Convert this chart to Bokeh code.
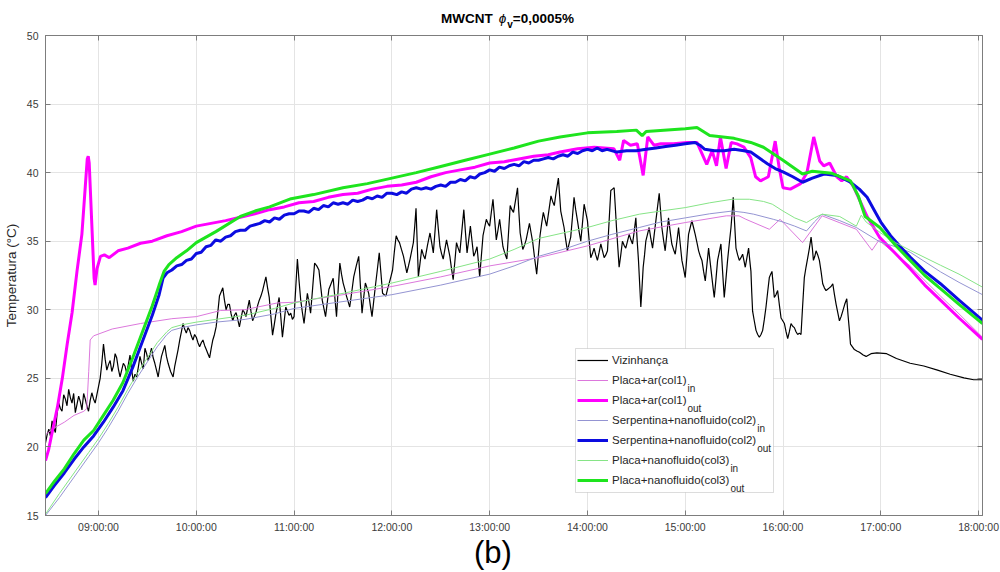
from bokeh.plotting import figure
from bokeh.models import (Range1d, FixedTicker, LinearAxis, Label, BoxAnnotation,
                          Legend, LegendItem, Div)
from bokeh.layouts import column
from bokeh.embed import file_html
from bokeh.resources import INLINE

FONT = "Liberation Sans"

# ---- time axis (decimal hours) and labels --------------------------------
tick_hours = [9, 10, 11, 12, 13, 14, 15, 16, 17, 18]
tick_labels = ["09:00:00", "10:00:00", "11:00:00", "12:00:00", "13:00:00",
               "14:00:00", "15:00:00", "16:00:00", "17:00:00", "18:00:00"]
temp_ticks = [15, 20, 25, 30, 35, 40, 45, 50]

# ---- Vizinhança (ambient) ------------------------------------------------
amb_hours = [
    8.458, 8.475, 8.492, 8.508, 8.525, 8.542, 8.559, 8.576, 8.593, 8.61,
    8.627, 8.644, 8.661, 8.678, 8.695, 8.712, 8.729, 8.746, 8.763, 8.78,
    8.797, 8.814, 8.831, 8.848, 8.864, 8.881, 8.898, 8.915, 8.932, 8.949,
    8.966, 8.983, 9.0, 9.017, 9.034, 9.051, 9.068, 9.085, 9.102, 9.119,
    9.136, 9.153, 9.17, 9.186, 9.203, 9.22, 9.237, 9.254, 9.271, 9.288,
    9.305, 9.322, 9.339, 9.356, 9.373, 9.39, 9.407, 9.424, 9.441, 9.458,
    9.475, 9.492, 9.508, 9.525, 9.542, 9.559, 9.576, 9.593, 9.61, 9.627,
    9.644, 9.661, 9.678, 9.695, 9.712, 9.737, 9.763, 9.78, 9.797, 9.814,
    9.831, 9.848, 9.864, 9.881, 9.898, 9.915, 9.932, 9.949, 9.966, 9.983,
    10.0, 10.017, 10.034, 10.051, 10.068, 10.085, 10.102, 10.119, 10.136, 10.153,
    10.169, 10.186, 10.203, 10.22, 10.237, 10.254, 10.271, 10.288, 10.305, 10.322,
    10.339, 10.356, 10.373, 10.39, 10.407, 10.424, 10.441, 10.458, 10.475, 10.492,
    10.508, 10.525, 10.542, 10.559, 10.576, 10.593, 10.61, 10.627, 10.644, 10.661,
    10.678, 10.695, 10.712, 10.729, 10.746, 10.763, 10.78, 10.797, 10.814, 10.831,
    10.847, 10.864, 10.881, 10.898, 10.915, 10.932, 10.949, 10.966, 10.983, 11.0,
    11.017, 11.034, 11.051, 11.068, 11.085, 11.102, 11.119, 11.136, 11.153, 11.169,
    11.19, 11.21, 11.232, 11.254, 11.271, 11.288, 11.305, 11.322, 11.339, 11.356,
    11.378, 11.4, 11.417, 11.434, 11.451, 11.468, 11.485, 11.502, 11.519, 11.536,
    11.553, 11.569, 11.59, 11.61, 11.636, 11.661, 11.678, 11.695, 11.712, 11.729,
    11.746, 11.763, 11.78, 11.797, 11.814, 11.831, 11.851, 11.871, 11.888, 11.905,
    11.922, 11.939, 11.956, 11.973, 11.99, 12.007, 12.025, 12.044, 12.061, 12.078,
    12.098, 12.119, 12.136, 12.153, 12.17, 12.186, 12.203, 12.22, 12.234, 12.247,
    12.259, 12.271, 12.288, 12.305, 12.322, 12.339, 12.364, 12.39, 12.407, 12.424,
    12.441, 12.458, 12.475, 12.492, 12.508, 12.525, 12.542, 12.559, 12.576, 12.593,
    12.61, 12.627, 12.644, 12.661, 12.678, 12.695, 12.715, 12.736, 12.752, 12.769,
    12.786, 12.803, 12.82, 12.837, 12.854, 12.871, 12.885, 12.898, 12.915, 12.932,
    12.949, 12.966, 12.983, 13.0, 13.017, 13.034, 13.051, 13.068, 13.085, 13.102,
    13.119, 13.136, 13.156, 13.176, 13.193, 13.21, 13.227, 13.244, 13.265, 13.285,
    13.298, 13.312, 13.325, 13.339, 13.356, 13.373, 13.39, 13.407, 13.424, 13.441,
    13.461, 13.481, 13.498, 13.515, 13.532, 13.549, 13.566, 13.583, 13.605, 13.627,
    13.644, 13.661, 13.68, 13.703, 13.715, 13.727, 13.744, 13.761, 13.778, 13.795,
    13.812, 13.829, 13.846, 13.863, 13.88, 13.898, 13.915, 13.932, 13.949, 13.966,
    13.983, 14.0, 14.017, 14.034, 14.051, 14.068, 14.085, 14.102, 14.12, 14.137,
    14.154, 14.171, 14.188, 14.205, 14.222, 14.239, 14.256, 14.273, 14.285, 14.297,
    14.31, 14.324, 14.341, 14.358, 14.375, 14.392, 14.41, 14.427, 14.444, 14.461,
    14.478, 14.495, 14.508, 14.522, 14.534, 14.546, 14.558, 14.57, 14.584, 14.597,
    14.614, 14.631, 14.648, 14.666, 14.683, 14.7, 14.717, 14.734, 14.748, 14.761,
    14.778, 14.795, 14.812, 14.829, 14.846, 14.863, 14.88, 14.898, 14.915, 14.932,
    14.949, 14.966, 14.983, 15.0, 15.017, 15.034, 15.051, 15.068, 15.085, 15.102,
    15.12, 15.137, 15.154, 15.171, 15.188, 15.205, 15.222, 15.239, 15.256, 15.273,
    15.285, 15.297, 15.314, 15.331, 15.348, 15.365, 15.382, 15.399, 15.416, 15.433,
    15.45, 15.468, 15.48, 15.491, 15.505, 15.519, 15.536, 15.553, 15.57, 15.587,
    15.6, 15.614, 15.631, 15.648, 15.66, 15.672, 15.68, 15.689, 15.706, 15.724,
    15.741, 15.758, 15.775, 15.792, 15.809, 15.826, 15.843, 15.86, 15.874, 15.887,
    15.9, 15.911, 15.928, 15.945, 15.962, 15.98, 15.997, 16.014, 16.031, 16.048,
    16.065, 16.082, 16.099, 16.116, 16.133, 16.15, 16.167, 16.184, 16.2, 16.218,
    16.235, 16.253, 16.27, 16.287, 16.3, 16.311, 16.325, 16.338, 16.355, 16.372,
    16.389, 16.406, 16.423, 16.44, 16.457, 16.474, 16.491, 16.509, 16.526, 16.543,
    16.56, 16.577, 16.594, 16.611, 16.631, 16.652, 16.665, 16.679, 16.69, 16.71,
    16.73, 16.755, 16.782, 16.82, 16.85, 16.9, 16.96, 17.06, 17.16, 17.3,
    17.44, 17.58, 17.71, 17.85, 17.95, 18.04,
]
amb_temp = [
    20.3, 20.9, 21.3, 20.8, 21.9, 21.4, 21.05, 22.4, 23.2, 22.8,
    22.6, 23.8, 23.5, 23.0, 24.2, 23.6, 23.2, 23.9, 22.5, 23.1,
    23.7, 23.3, 22.7, 23.9, 23.5, 23.0, 22.6, 23.4, 23.95, 23.5,
    23.2, 23.8, 24.4, 25.0, 26.1, 27.5, 26.4, 25.6, 26.0, 26.3,
    25.5, 25.9, 26.8, 26.5, 25.7, 25.1, 25.6, 26.1, 25.9, 25.4,
    26.0, 26.7, 25.6, 24.8, 25.3, 25.1, 25.8, 26.6, 26.1, 25.7,
    27.2, 26.8, 26.3, 26.7, 27.2, 26.5, 26.1, 25.6, 25.1, 25.9,
    26.6, 27.0, 27.4, 26.6, 26.1, 25.5, 25.1, 25.9, 26.5, 27.1,
    27.8, 28.4, 29.0, 28.6, 28.3, 28.7, 28.5, 28.1, 27.8, 28.2,
    28.0, 27.6, 27.3, 27.6, 27.8, 27.4, 27.1, 26.8, 26.5, 27.2,
    27.8, 28.2, 28.75, 29.8, 31.0, 31.3, 31.6, 30.7, 30.0, 30.4,
    30.4, 29.7, 29.2, 29.6, 29.8, 29.3, 28.75, 29.4, 30.0, 29.8,
    29.5, 30.1, 30.7, 29.9, 29.2, 29.5, 29.8, 30.3, 30.7, 31.0,
    31.4, 31.9, 32.4, 31.6, 30.9, 29.5, 28.15, 28.9, 29.7, 30.3,
    30.9, 29.5, 28.0, 29.1, 30.2, 29.9, 29.6, 29.75, 29.3, 29.5,
    31.6, 33.7, 32.1, 30.7, 29.8, 29.0, 30.1, 31.2, 30.5, 29.75,
    31.6, 33.4, 33.2, 32.9, 31.8, 30.7, 30.1, 29.5, 30.5, 31.5,
    31.9, 32.3, 30.9, 29.5, 31.5, 33.4, 32.6, 31.95, 31.5, 31.0,
    30.6, 30.2, 31.3, 32.4, 33.2, 33.9, 31.8, 29.75, 30.9, 31.95,
    31.6, 31.2, 30.3, 29.5, 30.6, 31.7, 32.9, 34.15, 32.7, 31.2,
    31.1, 31.0, 31.5, 31.95, 32.4, 32.9, 34.2, 35.4, 35.1, 34.9,
    34.4, 33.9, 33.3, 32.7, 33.2, 33.7, 34.3, 34.9, 36.1, 37.4,
    34.9, 32.4, 33.4, 34.4, 34.0, 33.7, 34.7, 35.6, 34.9, 34.15,
    35.7, 37.3, 35.9, 34.6, 34.1, 33.7, 34.4, 35.1, 34.5, 33.9,
    33.0, 32.2, 33.5, 34.9, 34.5, 34.15, 35.7, 37.3, 35.7, 34.15,
    35.1, 36.1, 35.0, 33.9, 34.2, 34.6, 33.5, 32.4, 33.9, 35.4,
    36.0, 36.6, 36.3, 36.1, 37.1, 38.05, 36.6, 35.1, 35.8, 36.6,
    35.6, 34.6, 34.1, 33.7, 35.6, 37.6, 37.3, 37.1, 38.0, 38.9,
    37.2, 35.6, 35.0, 34.4, 34.7, 35.1, 35.7, 36.3, 35.6, 34.9,
    33.7, 32.6, 34.0, 35.4, 36.3, 37.1, 36.6, 36.1, 37.2, 38.3,
    37.9, 37.6, 38.6, 39.6, 38.4, 37.2, 36.6, 36.0, 35.1, 34.3,
    34.8, 35.3, 36.7, 38.2, 37.3, 36.5, 35.7, 35.0, 36.3, 37.7,
    37.1, 36.5, 35.1, 33.8, 34.1, 34.5, 34.0, 33.6, 34.2, 34.8,
    34.3, 33.8, 34.0, 34.3, 36.5, 38.7, 38.8, 38.9, 37.5, 36.0,
    34.6, 33.1, 34.0, 35.0, 34.7, 34.5, 35.0, 35.5, 35.1, 34.8,
    35.7, 36.7, 35.1, 33.6, 31.9, 30.2, 31.6, 33.1, 34.0, 35.0,
    35.5, 36.0, 35.2, 34.5, 35.5, 36.5, 37.5, 38.5, 37.2, 36.0,
    35.1, 34.3, 35.5, 36.7, 35.7, 34.8, 34.4, 34.05, 35.0, 36.0,
    34.8, 33.6, 33.0, 32.35, 33.9, 35.5, 36.0, 36.5, 36.0, 35.5,
    34.9, 34.3, 33.9, 33.6, 32.8, 32.1, 33.3, 34.5, 33.4, 32.35,
    31.6, 30.9, 32.2, 33.6, 34.2, 34.8, 32.8, 30.9, 32.2, 33.6,
    34.8, 36.0, 37.1, 38.2, 36.3, 34.5, 34.0, 33.6, 33.8, 34.05,
    33.6, 33.1, 33.8, 34.5, 33.6, 32.8, 31.3, 29.9, 29.2, 28.5,
    28.2, 28.0, 28.2, 28.5, 29.3, 30.2, 31.3, 32.35, 32.6, 32.8,
    31.8, 30.9, 31.1, 31.4, 30.4, 29.4, 29.2, 29.0, 28.4, 27.9,
    28.4, 29.0, 28.8, 28.7, 28.4, 28.2, 28.3, 28.2, 30.2, 32.35,
    33.1, 33.8, 34.5, 35.3, 34.5, 33.6, 33.9, 34.3, 34.0, 33.6,
    32.8, 31.9, 31.6, 31.4, 31.5, 31.6, 31.7, 31.9, 31.1, 30.4,
    29.8, 29.2, 29.5, 29.9, 30.4, 30.8, 29.6, 28.5, 27.5, 27.3,
    27.1, 27.0, 26.9, 26.7, 26.6, 26.8, 26.86, 26.8, 26.45, 26.1,
    25.9, 25.6, 25.3, 25.04, 24.9, 24.9,
]

# ---- Placa+ar (col1) -----------------------------------------------------
col1_in_hours = [8.458, 8.55, 8.65, 8.75, 8.85, 8.88, 8.9, 8.915, 8.95, 9.14,
                 9.43, 9.75, 10.0, 10.25, 10.49, 10.83, 11.0, 11.5, 12.0, 12.5,
                 13.0, 13.5, 14.0, 14.53, 15.0, 15.42, 15.55, 15.62, 15.86, 15.97,
                 16.2, 16.4, 16.75, 16.91, 16.98, 17.3, 17.61, 17.8, 18.04]
col1_in_temp = [20.9, 21.4, 21.8, 22.3, 22.6, 22.8, 25.5, 27.8, 28.1, 28.6,
                29.0, 29.35, 29.5, 29.95, 30.0, 30.5, 30.55, 31.1, 31.7, 32.4,
                33.2, 33.8, 34.66, 35.75, 36.36, 36.85, 36.85, 36.6, 35.87, 36.6,
                34.9, 36.85, 35.87, 34.34, 35.07, 33.2, 31.0, 29.7, 28.0]

col1_out_hours = [8.458, 8.49, 8.53, 8.58, 8.63, 8.68, 8.73, 8.78, 8.83, 8.865,
                  8.885, 8.895, 8.905, 8.93, 8.955, 8.965, 8.985, 9.02, 9.06, 9.11,
                  9.2, 9.3, 9.43, 9.55, 9.7, 9.85, 10.0, 10.15, 10.3, 10.45,
                  10.6, 10.75, 10.9, 11.05, 11.2, 11.35, 11.5, 11.65, 11.8, 11.95,
                  12.1, 12.25, 12.4, 12.55, 12.7, 12.85, 13.0, 13.15, 13.3, 13.45,
                  13.6, 13.72, 13.9, 14.07, 14.27, 14.33, 14.37, 14.44, 14.51, 14.57,
                  14.617, 14.68, 14.75, 14.88, 15.02, 15.12, 15.17, 15.22, 15.275, 15.32,
                  15.36, 15.418, 15.47, 15.53, 15.6, 15.67, 15.72, 15.77, 15.85, 15.92,
                  15.96, 16.0, 16.075, 16.18, 16.245, 16.314, 16.375, 16.416, 16.477, 16.55,
                  16.6, 16.65, 16.72, 16.86, 16.99, 17.15, 17.3, 17.45, 17.61, 17.8,
                  18.04]
col1_out_temp = [19.0, 19.8, 21.2, 22.9, 25.0, 27.5, 29.8, 32.8, 35.5, 39.0,
                 41.0, 41.2, 40.7, 36.5, 32.3, 31.8, 33.0, 33.9, 34.0, 33.8,
                 34.3, 34.5, 34.85, 35.0, 35.4, 35.7, 36.1, 36.3, 36.5, 36.75,
                 37.0, 37.3, 37.5, 37.8, 37.9, 38.2, 38.4, 38.5, 38.8, 39.0,
                 39.1, 39.3, 39.7, 40.0, 40.2, 40.4, 40.7, 40.8, 41.0, 41.2,
                 41.3, 41.5, 41.74, 41.86, 41.74, 40.9, 42.35, 42.0, 42.1, 39.8,
                 42.6, 42.0, 42.1, 42.1, 42.2, 42.2, 41.4, 40.6, 41.6, 40.5,
                 42.6, 40.3, 42.2, 42.1, 41.86, 41.1, 39.7, 39.4, 39.7, 42.3,
                 40.4, 38.9, 38.8, 39.2, 40.0, 42.6, 40.85, 40.5, 40.7, 39.7,
                 39.4, 39.7, 39.0, 36.8, 35.26, 34.1, 33.0, 31.8, 30.7, 29.4,
                 27.84]

# ---- Serpentina+nanofluido (col2) ----------------------------------------
col2_in_hours = [8.458, 8.6, 8.75, 8.9, 9.0, 9.1, 9.2, 9.3, 9.4, 9.5,
                 9.6, 9.7, 9.75, 9.85, 10.0, 10.2, 10.5, 10.8, 11.0, 11.5,
                 12.0, 12.5, 13.0, 13.25, 13.5, 13.75, 14.0, 14.25, 14.53, 14.75,
                 15.0, 15.25, 15.48, 15.6, 15.7, 15.9, 16.0, 16.12, 16.24, 16.32,
                 16.4, 16.58, 16.75, 16.99, 17.15, 17.3, 17.61, 17.8, 18.04]
col2_in_temp = [15.0, 16.3, 17.8, 19.3, 20.3, 21.4, 22.6, 23.9, 25.1, 26.2,
                27.3, 28.2, 28.5, 28.7, 28.9, 29.1, 29.3, 29.7, 30.1, 30.6,
                31.1, 31.8, 32.6, 33.2, 33.9, 34.4, 35.0, 35.5, 36.0, 36.4,
                36.7, 37.0, 37.2, 37.1, 36.97, 36.6, 36.4, 36.1, 35.75, 36.4,
                36.97, 36.5, 36.0, 34.95, 34.6, 34.2, 32.77, 32.0, 31.1]

col2_out_hours = [
    8.458, 8.55, 8.65, 8.75, 8.85, 8.95, 9.05, 9.15, 9.25, 9.35,
    9.45, 9.55, 9.62, 9.66, 9.70, 9.75, 9.80, 9.85, 9.90, 9.95,
    10.00, 10.05, 10.10, 10.15, 10.20, 10.25, 10.30, 10.35, 10.40, 10.45,
    10.50, 10.55, 10.60, 10.65, 10.70, 10.75, 10.80, 10.85, 10.90, 10.95,
    11.00, 11.05, 11.10, 11.15, 11.20, 11.25, 11.30, 11.35, 11.40, 11.45,
    11.50, 11.55, 11.60, 11.65, 11.70, 11.75, 11.80, 11.85, 11.90, 11.95,
    12.00, 12.05, 12.10, 12.15, 12.20, 12.25, 12.30, 12.35, 12.40, 12.45,
    12.50, 12.55, 12.60, 12.65, 12.70, 12.75, 12.80, 12.85, 12.90, 12.95,
    13.00, 13.05, 13.10, 13.15, 13.20, 13.25, 13.30, 13.35, 13.40, 13.45,
    13.50, 13.55, 13.60, 13.65, 13.70, 13.75, 13.80, 13.85, 13.90, 13.95,
    14.00, 14.05, 14.10, 14.15, 14.20, 14.30, 14.40, 14.50, 14.60, 14.70,
    14.80, 14.90, 15.00, 15.10, 15.15, 15.20, 15.30, 15.40, 15.50, 15.60,
    15.67, 15.75, 15.84, 15.92, 16.00, 16.10, 16.20, 16.30, 16.42, 16.55,
    16.69, 16.78, 16.86, 16.93, 17.00, 17.10, 17.20, 17.30, 17.45, 17.61,
    17.80, 18.04,
]
col2_out_temp = [
    16.3, 17.2, 18.1, 19.1, 20.0, 20.8, 21.8, 22.9, 24.1, 25.8,
    27.7, 29.6, 31.1, 32.3, 32.7, 32.9, 33.2, 33.3, 33.6, 33.7,
    34.1, 34.2, 34.6, 34.7, 35.1, 35.0, 35.3, 35.4, 35.7, 35.8,
    35.8, 36.1, 36.2, 36.3, 36.5, 36.4, 36.7, 36.6, 36.9, 37.0,
    37.0, 37.2, 37.2, 37.1, 37.4, 37.3, 37.6, 37.5, 37.8, 37.7,
    37.8, 37.7, 38.0, 37.9, 38.0, 38.2, 38.1, 38.3, 38.2, 38.5,
    38.5, 38.4, 38.6, 38.5, 38.8, 38.9, 38.8, 38.9, 38.8, 39.0,
    39.1, 39.0, 39.3, 39.3, 39.5, 39.4, 39.7, 39.6, 39.9, 40.0,
    40.2, 40.1, 40.4, 40.3, 40.5, 40.6, 40.5, 40.8, 40.7, 40.9,
    40.9, 41.0, 41.1, 41.0, 41.2, 41.3, 41.2, 41.5, 41.4, 41.6,
    41.7, 41.6, 41.8, 41.6, 41.7, 41.5, 41.6, 41.6, 41.7, 41.8,
    41.9, 42.0, 42.1, 42.2, 42.0, 41.7, 41.6, 41.6, 41.7, 41.6,
    41.5, 41.1, 40.65, 40.3, 40.05, 39.7, 39.3, 39.6, 39.9, 39.8,
    39.3, 38.8, 38.2, 37.3, 36.4, 35.4, 34.6, 33.85, 32.8, 31.9,
    30.7, 29.24,
]

# ---- Placa+nanofluido (col3) ---------------------------------------------
col3_in_hours = [8.458, 8.6, 8.75, 8.9, 9.0, 9.1, 9.2, 9.3, 9.4, 9.5,
                 9.6, 9.7, 9.75, 9.85, 10.0, 10.2, 10.5, 10.8, 11.0, 11.5,
                 12.0, 12.5, 13.0, 13.25, 13.5, 13.75, 14.0, 14.25, 14.53, 14.75,
                 15.0, 15.25, 15.48, 15.655, 15.8, 15.89, 16.0, 16.12, 16.24, 16.32,
                 16.4, 16.58, 16.75, 16.8, 16.85, 17.0, 17.15, 17.3, 17.61, 17.8,
                 18.04]
col3_in_temp = [15.1, 16.6, 18.1, 19.6, 20.6, 21.7, 22.9, 24.2, 25.4, 26.5,
                27.6, 28.4, 28.7, 28.9, 29.1, 29.3, 29.6, 30.1, 30.5, 31.2,
                31.95, 32.8, 33.7, 34.4, 35.2, 35.6, 36.0, 36.5, 36.97, 37.2,
                37.45, 37.8, 38.06, 38.06, 37.9, 37.7, 37.2, 36.7, 36.36, 36.7,
                36.97, 36.8, 36.1, 36.9, 36.4, 35.6, 34.9, 34.34, 33.25, 32.6,
                31.65]

col3_out_hours = [8.458, 8.55, 8.65, 8.75, 8.85, 8.95, 9.05, 9.15, 9.25, 9.35,
                  9.45, 9.55, 9.62, 9.67, 9.72, 9.8, 9.9, 10.0, 10.2, 10.45,
                  10.6, 10.75, 10.97, 11.2, 11.5, 11.75, 12.0, 12.25, 12.5, 12.75,
                  13.0, 13.25, 13.5, 13.72, 14.0, 14.3, 14.5, 14.56, 14.6, 15.0,
                  15.12, 15.25, 15.5, 15.67, 15.8, 16.0, 16.2, 16.3, 16.5, 16.69,
                  16.77, 16.84, 16.99, 17.15, 17.3, 17.45, 17.61, 17.8, 18.04]
col3_out_temp = [16.6, 17.5, 18.4, 19.5, 20.5, 21.2, 22.3, 23.4, 24.7, 26.5,
                 28.4, 30.3, 31.8, 32.8, 33.3, 33.8, 34.3, 34.9, 35.7, 36.8,
                 37.2, 37.5, 38.1, 38.4, 38.9, 39.2, 39.6, 40.0, 40.45, 40.9,
                 41.35, 41.8, 42.3, 42.6, 42.9, 43.0, 43.1, 42.7, 43.0, 43.2,
                 43.3, 42.7, 42.5, 42.2, 41.85, 40.9, 39.9, 40.1, 39.95, 39.4,
                 38.3, 36.8, 36.0, 34.7, 33.6, 32.5, 31.55, 30.4, 29.0]

# ---- series styling / legend text ------------------------------------------
series = [
    ("Vizinhança", "", amb_hours, amb_temp, "#000000", 1.2),
    ("Placa+ar(col1)", "in", col1_in_hours, col1_in_temp, "#dc78dc", 1.0),
    ("Placa+ar(col1)", "out", col1_out_hours, col1_out_temp, "#ff00ff", 3.0),
    ("Serpentina+nanofluido(col2)", "in", col2_in_hours, col2_in_temp, "#9494d2", 1.0),
    ("Serpentina+nanofluido(col2)", "out", col2_out_hours, col2_out_temp, "#0c0ce0", 3.0),
    ("Placa+nanofluido(col3)", "in", col3_in_hours, col3_in_temp, "#86e486", 1.0),
    ("Placa+nanofluido(col3)", "out", col3_out_hours, col3_out_temp, "#1ee41e", 3.0),
]

# ---- page layout: title strip / plot / panel tag ---------------------------
TITLE_H, TAG_H = 30, 35
BORDER_T, BORDER_B = 5, 22
FRAME_H = 480
PLOT_H = BORDER_T + FRAME_H + BORDER_B

title_div = Div(
    text=('<span style="font-weight:bold">MWCNT</span>'
          '<span style="font-style:italic;padding:0 1px 0 6px">ϕ</span>'
          '<sub style="font-weight:bold;font-size:10px;vertical-align:-5px;line-height:0">v</sub>'
          '<span style="font-weight:bold">=0,0005%</span>'),
    width=1000, height=TITLE_H, margin=(0, 0, 0, 0),
    styles={"font-family": FONT, "font-size": "13.5px", "line-height": "16px",
            "color": "#000000", "padding-left": "441px", "padding-top": "10.5px",
            "box-sizing": "border-box", "white-space": "nowrap"})

tag_div = Div(
    text="(b)", width=1000, height=TAG_H, margin=(0, 0, 0, 0),
    styles={"font-family": FONT, "font-size": "31px", "line-height": "31px",
            "color": "#000000", "padding-left": "474px",
            "box-sizing": "border-box", "white-space": "nowrap"})

p = figure(width=1000, height=PLOT_H, output_backend="svg", toolbar_location=None,
           x_range=Range1d(8.458, 18.04), y_range=Range1d(15, 50),
           min_border_left=45, min_border_right=18,
           min_border_top=BORDER_T, min_border_bottom=BORDER_B,
           background_fill_color="white", border_fill_color="white",
           margin=(0, 0, 0, 0))
p.title.visible = False
p.outline_line_color = "#7d7d7d"

axis_col = "#7d7d7d"
p.xaxis.ticker = FixedTicker(ticks=tick_hours)
p.xaxis.major_label_overrides = dict(zip(tick_hours, tick_labels))
p.yaxis.ticker = FixedTicker(ticks=temp_ticks)
p.yaxis.axis_label = "Temperatura (°C)"
p.yaxis.axis_label_text_font = FONT
p.yaxis.axis_label_text_font_size = "13.5px"
p.yaxis.axis_label_text_font_style = "normal"
p.yaxis.axis_label_text_color = "#262626"
p.yaxis.axis_label_standoff = 5
p.yaxis.major_label_standoff = 7
p.xaxis.major_label_standoff = 5
for ax in (p.xaxis[0], p.yaxis[0]):
    ax.axis_line_color = axis_col
    ax.major_tick_line_color = axis_col
    ax.major_tick_in = 5
    ax.major_tick_out = 0
    ax.minor_tick_line_color = None
    ax.major_label_text_font = FONT
    ax.major_label_text_font_size = "10.5px"
    ax.major_label_text_color = "#3a3a3a"

# box-style ticks on the top and right edges (no labels there)
for ticks, side in ((tick_hours, "above"), (temp_ticks, "right")):
    edge = LinearAxis(ticker=FixedTicker(ticks=ticks), major_label_text_font_size="0px",
                      major_label_text_color=None, major_label_standoff=0,
                      major_tick_in=5, major_tick_out=0, minor_tick_line_color=None,
                      axis_line_color=axis_col, major_tick_line_color=axis_col)
    p.add_layout(edge, side)

p.xgrid.grid_line_color = "#e4e4e4"
p.ygrid.grid_line_color = "#e4e4e4"

items = []
for name, sub, xs, ys, color, lw in series:
    r = p.line(xs, ys, line_color=color, line_width=lw)
    items.append(LegendItem(label=name, renderers=[r]))

# ---- legend: frame box, line samples + main text, subscripts -------------
LEG_X, LEG_Y, LEG_W, PAD, ROW_H = 530, 23, 198, 2, 20
n_rows = len(series)
leg_h = 2 * PAD + n_rows * ROW_H
p.add_layout(BoxAnnotation(left=LEG_X, right=LEG_X + LEG_W, bottom=LEG_Y, top=LEG_Y + leg_h,
                           left_units="screen", right_units="screen",
                           bottom_units="screen", top_units="screen",
                           fill_color="white", fill_alpha=1.0,
                           line_color="#8a8a8a", line_width=1))

legend = Legend(items=items, location=(LEG_X, LEG_Y), padding=PAD, margin=0, spacing=0,
                glyph_width=31, glyph_height=ROW_H, label_height=ROW_H, label_standoff=4,
                label_text_font=FONT, label_text_font_size="11.5px",
                label_text_color="#262626",
                background_fill_alpha=0, border_line_alpha=0)
p.add_layout(legend)

# subscript positions: text start + width of the main label (Arial metrics, 11.5px)
text_x0 = LEG_X + PAD + 31 + 4
main_width = {"Placa+ar(col1)": 74.5,
              "Serpentina+nanofluido(col2)": 144.2,
              "Placa+nanofluido(col3)": 117.4}
for i, (name, sub, *_rest) in enumerate(series):
    if not sub:
        continue
    row_center = LEG_Y + leg_h - PAD - (i + 0.5) * ROW_H
    p.add_layout(Label(x=text_x0 + main_width[name] + 0.5, y=row_center - 7.5,
                       x_units="screen", y_units="screen", text=sub,
                       text_font=FONT, text_font_size="10px", text_color="#262626",
                       text_baseline="alphabetic", text_align="left"))

page = column(title_div, p, tag_div, spacing=0, margin=(0, 0, 0, 0))
open("out.html", "w").write(file_html(page, INLINE))
